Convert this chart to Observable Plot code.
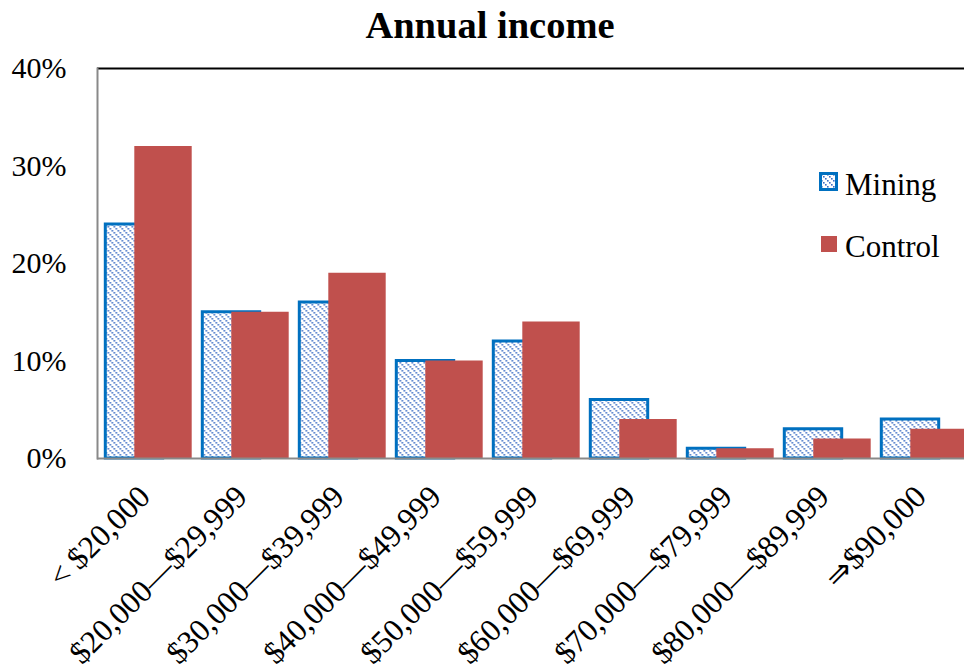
<!DOCTYPE html>
<html>
<head>
<meta charset="utf-8">
<script src="https://cdn.jsdelivr.net/npm/d3@7"></script>
<script src="https://cdn.jsdelivr.net/npm/@observablehq/plot@0.6"></script>
<style>
  html, body { margin: 0; padding: 0; background: #fff; }
  #wrap { position: relative; width: 964px; height: 666px; overflow: hidden; font-family: "Liberation Serif", "Times New Roman", serif; }
  #title { position: absolute; top: 0; left: 0; width: 980px; text-align: center; font-weight: bold; font-size: 38.5px; line-height: 50px; }
  #chart { position: absolute; top: 50px; left: 0; }
  #chart svg, #chart svg text { font-family: "Liberation Serif", "Times New Roman", serif !important; }
  .leg { position: absolute; font-size: 31px; line-height: 30px; white-space: nowrap; }
  .leg svg { position: absolute; }
</style>
</head>
<body>
<div id="wrap">
  <div id="title">Annual income</div>
  <div id="chart"></div>
</div>
<script>
const categories = ["< $20,000", "$20,000\u2014$29,999", "$30,000\u2014$39,999", "$40,000\u2014$49,999",
  "$50,000\u2014$59,999", "$60,000\u2014$69,999", "$70,000\u2014$79,999", "$80,000\u2014$89,999", "\u21D2$90,000"];
const mining = [24, 15, 16, 10, 12, 6, 1, 3, 4];
const control = [32, 15, 19, 10, 14, 4, 1, 2, 3];
const seriesNames = ["Mining", "Control"];
const yTicks = [0, 10, 20, 30, 40];

const miningData = categories.map((c, i) => ({category: c, value: mining[i]}));
const controlData = categories.map((c, i) => ({category: c, value: control[i]}));

const FONT = '"Liberation Serif", "Times New Roman", serif';
const BLUE = "#0070C0";
const RED = "#C0504D";
const HATCH = "#3F6EC4";

const plot = Plot.plot({
  width: 964,
  height: 616,
  marginTop: 18,
  marginBottom: 208,
  marginLeft: 97,
  marginRight: 0,
  style: `font-family: ${FONT}; font-size: 30px; color: #000; background: transparent; overflow: visible;`,
  x: {type: "band", domain: categories, range: [97, 976], padding: 0, axis: null},
  y: {domain: [0, 40], axis: null},
  marks: [
    Plot.ruleY([40], {stroke: "#000", strokeWidth: 2}),
    Plot.frame({anchor: "left", stroke: "#898989", strokeWidth: 2}),
    Plot.barY(miningData, {x: "category", y: "value", fill: "url(#hatchMining)", stroke: BLUE, strokeWidth: 3,
      dx: -14.5, insetLeft: 19.8, insetRight: 19.8}),
    Plot.barY(controlData, {x: "category", y: "value", fill: RED,
      dx: 14.5, insetLeft: 19.8, insetRight: 19.8}),
    Plot.ruleY([0], {stroke: "#898989", strokeWidth: 2}),
    Plot.axisY({ticks: yTicks, tickFormat: d => d + "%", tickSize: 0, tickPadding: 31,
      fontSize: 30, fontFamily: FONT, label: null}),
    Plot.text(categories, {x: d => d, frameAnchor: "bottom", dx: 3, dy: 40, rotate: -45,
      textAnchor: "end", lineAnchor: "bottom", fontSize: 31.5, fontFamily: FONT, fill: "#000"})
  ]
});

const ns = "http://www.w3.org/2000/svg";
const patternBody = `<rect width="6" height="6" fill="#fff"/>
    <rect x="0" y="0" width="1.6" height="1.6" fill="${HATCH}"/>
    <rect x="2" y="2" width="1.6" height="1.6" fill="${HATCH}"/>
    <rect x="4" y="4" width="1.6" height="1.6" fill="${HATCH}"/>`;
const defs = document.createElementNS(ns, "defs");
defs.innerHTML = `<pattern id="hatchMining" patternUnits="userSpaceOnUse" width="6" height="6">${patternBody}</pattern>`;
plot.insertBefore(defs, plot.firstChild);
document.getElementById("chart").appendChild(plot);

// legend
const wrap = document.getElementById("wrap");
const legendSpec = [
  {name: seriesNames[0], top: 170, swatch: `<svg width="19" height="19" style="left:-26px;top:2px"><defs><pattern id="hatchLeg" patternUnits="userSpaceOnUse" width="6" height="6">${patternBody}</pattern></defs><rect x="1.5" y="1.5" width="16" height="16" fill="url(#hatchLeg)" stroke="${BLUE}" stroke-width="3"/></svg>`},
  {name: seriesNames[1], top: 232, swatch: `<svg width="16" height="16" style="left:-24px;top:4px"><rect width="16" height="16" fill="${RED}"/></svg>`}
];
legendSpec.forEach(l => {
  const d = document.createElement("div");
  d.className = "leg";
  d.style.left = "845px";
  d.style.top = l.top + "px";
  d.innerHTML = l.swatch + `<span>${l.name}</span>`;
  wrap.appendChild(d);
});
</script>
</body>
</html>
